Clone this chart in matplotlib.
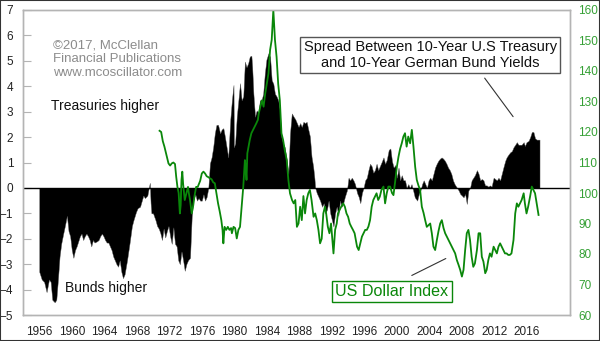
import numpy as np
import matplotlib
matplotlib.use("Agg")
import matplotlib.pyplot as plt
from matplotlib.patches import Rectangle

plt.rcParams['font.family'] = ['Liberation Sans', 'DejaVu Sans']

# US 10-yr minus German 10-yr yield spread (percentage points)
spread_years = [
    1956.0, 1956.3, 1956.6, 1956.9, 1957.2, 1957.4, 1957.6, 1957.9, 1958.1, 1958.3,
    1958.5, 1958.7, 1958.95, 1959.15, 1959.4, 1959.6, 1959.8, 1960.0, 1960.2, 1960.4,
    1960.6, 1960.8, 1961.0, 1961.2, 1961.4, 1961.6, 1961.8, 1962.0, 1962.2, 1962.4,
    1962.6, 1962.8, 1963.1, 1963.3, 1963.5, 1963.7, 1963.9, 1964.1, 1964.3, 1964.5,
    1964.7, 1964.9, 1965.1, 1965.3, 1965.5, 1965.7, 1965.9, 1966.1, 1966.3, 1966.5,
    1966.8, 1967.1, 1967.4, 1967.6, 1967.9, 1968.1, 1968.4, 1968.8, 1969.0, 1969.3,
    1969.6, 1969.7, 1969.8, 1970.0, 1970.3, 1970.5, 1970.7, 1970.9, 1971.1, 1971.3,
    1971.5, 1971.7, 1971.9, 1972.1, 1972.3, 1972.5, 1972.7, 1972.9, 1973.1, 1973.3,
    1973.5, 1973.7, 1973.9, 1974.1, 1974.3, 1974.55, 1974.76, 1974.95, 1975.2, 1975.4,
    1975.6, 1975.8, 1976.0, 1976.2, 1976.4, 1976.6, 1976.8, 1977.0, 1977.2, 1977.4,
    1977.6, 1977.8, 1978.0, 1978.25, 1978.45, 1978.65, 1978.85, 1979.05, 1979.25, 1979.5,
    1979.7, 1979.9, 1979.95, 1980.1, 1980.3, 1980.5, 1980.7, 1980.9, 1981.1, 1981.3,
    1981.5, 1981.7, 1981.9, 1982.1, 1982.2, 1982.35, 1982.55, 1982.75, 1982.95, 1983.15,
    1983.35, 1983.55, 1983.75, 1983.95, 1984.2, 1984.4, 1984.6, 1984.8, 1985.0, 1985.2,
    1985.4, 1985.6, 1985.8, 1986.0, 1986.2, 1986.45, 1986.65, 1986.85, 1987.07, 1987.3,
    1987.5, 1987.7, 1987.9, 1988.1, 1988.3, 1988.5, 1988.7, 1988.9, 1989.1, 1989.3,
    1989.5, 1989.7, 1989.85, 1989.95, 1990.15, 1990.35, 1990.55, 1990.8, 1991.0, 1991.2,
    1991.4, 1991.6, 1991.8, 1992.0, 1992.2, 1992.4, 1992.6, 1992.8, 1993.0, 1993.2,
    1993.4, 1993.6, 1993.85, 1994.05, 1994.25, 1994.45, 1994.65, 1994.85, 1995.1, 1995.3,
    1995.5, 1995.7, 1995.9, 1996.1, 1996.3, 1996.5, 1996.7, 1996.9, 1997.1, 1997.3,
    1997.5, 1997.7, 1997.9, 1998.1, 1998.35, 1998.55, 1998.75, 1999.0, 1999.2, 1999.4,
    1999.6, 1999.8, 2000.0, 2000.2, 2000.4, 2000.6, 2000.8, 2001.0, 2001.2, 2001.4,
    2001.6, 2001.8, 2002.0, 2002.2, 2002.5, 2002.7, 2002.9, 2003.1, 2003.3, 2003.5,
    2003.7, 2003.9, 2004.1, 2004.3, 2004.5, 2004.7, 2004.9, 2005.1, 2005.3, 2005.5,
    2005.7, 2005.9, 2006.1, 2006.3, 2006.5, 2006.7, 2006.9, 2007.1, 2007.4, 2007.6,
    2007.8, 2008.0, 2008.2, 2008.4, 2008.6, 2008.8, 2009.0, 2009.2, 2009.4, 2009.6,
    2009.85, 2010.05, 2010.25, 2010.45, 2010.65, 2010.85, 2011.05, 2011.25, 2011.45, 2011.65,
    2011.9, 2012.1, 2012.3, 2012.5, 2012.7, 2012.9, 2013.1, 2013.33, 2013.5, 2013.7,
    2013.94, 2014.15, 2014.35, 2014.56, 2014.76, 2014.95, 2015.15, 2015.35, 2015.6, 2015.75,
    2015.95, 2016.2, 2016.4, 2016.6, 2016.8, 2017.0, 2017.2, 2017.43, 2017.55,
]
spread = [
    -3.3, -3.6, -3.7, -4.1, -3.6, -3.7, -4.4, -4.5, -4.4, -3.6,
    -2.7, -2.2, -1.8, -1.5, -1.1, -1.7, -1.9, -2.45, -2.75, -2.45,
    -2.3, -2.1, -1.9, -1.8, -2.05, -1.9, -1.8, -1.9, -2.05, -2.3,
    -2.05, -2.15, -2.1, -2.05, -1.9, -1.8, -1.9, -2.05, -2.15, -2.15,
    -2.3, -2.45, -2.7, -2.85, -3.0, -3.1, -2.85, -3.3, -3.55, -3.4,
    -2.85, -2.2, -1.5, -1.26, -0.95, -0.8, -0.74, -0.3, -0.4, -0.3,
    0.2, -0.6, -1.0, -1.0, -1.27, -1.5, -1.6, -1.78, -2.05, -1.6,
    -1.95, -1.7, -1.5, -1.9, -2.2, -1.55, -2.2, -2.3, -2.85, -3.0,
    -2.5, -2.85, -3.26, -3.0, -2.85, -2.75, -1.13, -0.5, -0.25, -0.5,
    -0.4, -0.5, -0.5, -0.25, -0.5, -0.35, 0.0, 0.97, 1.2, 1.6,
    2.15, 2.48, 2.48, 2.15, 2.3, 2.35, 2.0, 1.6, 1.2, 2.68,
    3.45, 4.05, 1.6, 1.75, 2.8, 3.45, 4.12, 3.45, 3.6, 4.97,
    4.75, 4.9, 5.17, 5.2, 4.75, 3.7, 2.8, 3.05, 2.95, 3.45,
    3.45, 3.7, 4.5, 5.05, 5.3, 5.15, 4.24, 4.1, 3.7, 3.6,
    3.45, 3.05, 2.0, 1.75, 1.6, 1.1, 0.55, 2.15, 2.93, 2.8,
    2.7, 2.55, 2.4, 2.55, 2.4, 2.6, 2.55, 2.6, 2.3, 2.02,
    1.23, 0.84, 0.4, 0.0, -0.21, -0.35, -0.5, -0.74, -0.6, -1.0,
    -0.85, -0.5, -1.0, -1.26, -1.52, -1.0, -0.74, -1.1, -0.5, -0.74,
    -0.6, -0.35, -0.1, 0.4, 0.3, 0.4, 0.3, 0.15, -0.2, -0.35,
    -0.6, -0.2, 0.0, 0.3, 0.4, 0.7, 0.95, 0.85, 0.6, 0.7,
    0.95, 0.7, 0.85, 1.0, 1.2, 0.95, 1.1, 1.5, 1.55, 1.05,
    0.8, 0.9, 0.4, 0.8, 0.3, 0.5, 0.3, 0.3, 0.0, 0.15,
    0.0, 0.15, -0.1, -0.37, -0.5, -0.24, -0.1, 0.15, 0.3, 0.15,
    0.0, 0.3, 0.4, 0.3, 0.55, 0.8, 0.95, 1.07, 1.15, 1.2,
    1.15, 1.07, 0.95, 0.8, 0.7, 0.55, 0.3, 0.15, 0.0, -0.1,
    -0.24, -0.3, -0.37, -0.24, -0.63, -0.1, 0.0, 0.3, 0.4, 0.5,
    0.7, 0.55, 0.3, 0.35, 0.3, 0.1, 0.1, 0.05, 0.1, 0.05,
    0.4, 0.35, 0.3, 0.4, 0.3, 0.55, 0.8, 1.07, 1.2, 1.3,
    1.4, 1.45, 1.6, 1.7, 1.8, 1.7, 1.7, 1.7, 1.8, 1.65,
    1.8, 1.85, 2.0, 2.2, 2.2, 1.95, 1.9, 1.9, 1.9,
]

# US Dollar Index
dollar_years = [
    1970.8, 1971.0, 1971.2, 1971.4, 1971.6, 1971.7, 1971.9, 1972.1, 1972.3, 1972.5,
    1972.7, 1972.85, 1973.0, 1973.15, 1973.3, 1973.4, 1973.5, 1973.6, 1973.7, 1973.9,
    1974.1, 1974.3, 1974.4, 1974.55, 1974.76, 1974.95, 1975.1, 1975.3, 1975.5, 1975.8,
    1976.0, 1976.2, 1976.4, 1976.6, 1976.8, 1977.0, 1977.2, 1977.4, 1977.6, 1977.8,
    1978.0, 1978.2, 1978.4, 1978.55, 1978.65, 1978.8, 1979.0, 1979.2, 1979.4, 1979.6,
    1979.7, 1979.9, 1980.1, 1980.3, 1980.5, 1980.7, 1980.9, 1981.1, 1981.3, 1981.4,
    1981.5, 1981.6, 1981.9, 1982.1, 1982.5, 1982.7, 1982.9, 1983.0, 1983.2, 1983.4,
    1983.6, 1983.8, 1984.0, 1984.2, 1984.4, 1984.6, 1984.8, 1985.0, 1985.2, 1985.4,
    1985.6, 1985.8, 1986.0, 1986.2, 1986.45, 1986.65, 1986.85, 1987.1, 1987.3, 1987.5,
    1987.7, 1987.9, 1988.1, 1988.3, 1988.5, 1988.7, 1988.9, 1989.1, 1989.3, 1989.5,
    1989.75, 1989.95, 1990.15, 1990.35, 1990.55, 1990.75, 1990.95, 1991.15, 1991.3, 1991.5,
    1991.7, 1991.9, 1992.2, 1992.4, 1992.6, 1992.75, 1992.95, 1993.15, 1993.4, 1993.6,
    1993.8, 1994.0, 1994.2, 1994.4, 1994.6, 1994.8, 1995.1, 1995.3, 1995.5, 1995.7,
    1995.9, 1996.1, 1996.3, 1996.5, 1996.7, 1996.9, 1997.1, 1997.3, 1997.5, 1997.7,
    1997.9, 1998.1, 1998.35, 1998.55, 1998.75, 1998.95, 1999.17, 1999.4, 1999.58, 1999.8,
    2000.0, 2000.2, 2000.4, 2000.6, 2000.8, 2001.0, 2001.2, 2001.4, 2001.63, 2001.84,
    2002.04, 2002.25, 2002.45, 2002.65, 2002.86, 2003.07, 2003.28, 2003.48, 2003.68, 2003.9,
    2004.1, 2004.3, 2004.5, 2004.71, 2004.92, 2005.12, 2005.33, 2005.53, 2005.74, 2005.94,
    2006.15, 2006.35, 2006.55, 2006.76, 2006.97, 2007.17, 2007.38, 2007.58, 2007.79, 2008.0,
    2008.2, 2008.4, 2008.6, 2008.8, 2009.0, 2009.2, 2009.4, 2009.6, 2009.85, 2010.05,
    2010.25, 2010.45, 2010.65, 2010.87, 2011.05, 2011.25, 2011.45, 2011.65, 2011.9, 2012.1,
    2012.3, 2012.5, 2012.7, 2012.9, 2013.1, 2013.3, 2013.5, 2013.7, 2013.9, 2014.1,
    2014.35, 2014.56, 2014.76, 2014.95, 2015.15, 2015.35, 2015.6, 2015.75, 2015.95, 2016.15,
    2016.4, 2016.6, 2016.8, 2017.0, 2017.2, 2017.43,
]
dollar = [
    120.4, 120.0, 117.0, 115.2, 113.0, 111.9, 109.7, 109.0, 109.7, 110.0,
    109.5, 105.3, 102.0, 100.0, 93.3, 96.0, 104.3, 107.0, 103.0, 97.7,
    99.9, 102.0, 100.0, 97.7, 93.3, 96.0, 99.0, 102.0, 102.0, 104.0,
    106.4, 107.0, 106.4, 105.5, 105.2, 104.8, 104.5, 103.5, 103.2, 100.0,
    96.6, 94.0, 91.1, 87.9, 83.5, 88.9, 87.9, 88.9, 87.9, 88.5,
    86.8, 88.9, 88.5, 85.1, 87.9, 88.9, 95.5, 102.0, 110.8, 108.0,
    104.3, 113.0, 117.4, 119.6, 121.7, 122.8, 124.0, 126.0, 128.3, 130.4,
    128.3, 132.6, 135.9, 139.2, 146.9, 150.2, 160.0, 150.2, 144.6, 135.7,
    130.4, 119.6, 117.4, 114.1, 110.8, 104.3, 99.9, 97.7, 96.6, 97.7,
    88.9, 90.0, 95.5, 91.1, 99.0, 93.3, 97.7, 99.9, 101.0, 97.7,
    92.2, 93.3, 91.1, 87.9, 83.5, 85.0, 93.3, 95.5, 93.3, 89.0,
    86.8, 90.0, 80.2, 87.9, 90.0, 93.3, 94.4, 95.5, 96.6, 95.5,
    93.3, 92.2, 90.0, 88.9, 87.9, 86.8, 82.4, 81.3, 83.5, 85.7,
    86.8, 87.9, 87.9, 89.0, 91.1, 95.5, 97.7, 98.8, 99.9, 97.7,
    98.8, 101.0, 102.1, 96.6, 99.9, 102.1, 102.1, 100.0, 99.3, 104.0,
    108.6, 111.9, 114.5, 116.3, 118.5, 119.6, 115.2, 118.5, 116.3, 120.7,
    115.2, 108.6, 104.3, 102.5, 101.0, 95.5, 93.5, 91.1, 88.9, 89.5,
    90.0, 86.8, 82.4, 81.3, 84.6, 87.5, 90.0, 91.1, 88.5, 86.8,
    85.7, 84.6, 83.5, 82.4, 81.3, 80.2, 78.0, 76.5, 74.8, 72.6,
    74.8, 81.3, 86.8, 87.9, 84.6, 79.1, 75.8, 76.9, 81.3, 86.8,
    86.8, 79.1, 77.5, 73.7, 74.8, 78.0, 80.2, 79.1, 82.4, 81.3,
    80.2, 82.4, 83.5, 82.4, 81.3, 80.2, 80.2, 79.7, 79.7, 80.2,
    84.6, 93.3, 96.6, 95.5, 96.6, 97.7, 99.9, 96.6, 93.3, 95.5,
    99.0, 102.1, 101.0, 99.9, 96.6, 92.8,
]

tick_years = list(range(1956, 2017, 4))

green = '#0a870a'
label_green = '#35a035'
spine_gray = '#b4b4b4'

fig = plt.figure(figsize=(6, 3.41), dpi=100)
ax = fig.add_axes([23 / 600, 26 / 341, 547 / 600, 305 / 341])
ax2 = ax.twinx()

ax.fill_between(spread_years, spread, 0, color='black', lw=0.3, edgecolor='#555555')
ax.axhline(0, color='black', lw=1)
ax2.plot(dollar_years, dollar, color=green, lw=1.3)

ax.set_xlim(1954.0, 2021.3)
ax.set_ylim(-5, 7)
ax2.set_ylim(60, 160)

ax.set_xticks(tick_years)
ax.set_yticks(range(-5, 8))
ax2.set_yticks(range(60, 161, 10))

ax.tick_params(axis='y', direction='in', length=6, width=0.8, color=spine_gray,
               pad=7, labelsize=8.5, labelcolor='#222222')
ax.tick_params(axis='x', length=0, pad=8, labelsize=8.5, labelcolor='#222222')
ax2.tick_params(axis='y', length=0, pad=6, labelsize=8.5, labelcolor=label_green)

for a in (ax, ax2):
    for s in a.spines.values():
        s.set_color(spine_gray)
        s.set_linewidth(1)

ax.set_zorder(1)
ax2.set_zorder(2)
ax2.patch.set_visible(False)

tr = ax.transAxes
ax.text(0.055, 0.902, "\u00a92017, McClellan\nFinancial Publications\nwww.mcoscillator.com",
        transform=tr, ha='left', va='top', fontsize=9.5, color='#8c8c8c', linespacing=1.15)
ax.text(0.051, 0.685, "Treasuries higher", transform=tr, ha='left', va='center',
        fontsize=10, color='#111111')
ax.text(0.077, 0.088, "Bunds higher", transform=tr, ha='left', va='center',
        fontsize=10, color='#111111')

tr2 = ax2.transAxes
ax2.annotate("", xy=(0.899, 0.643), xytext=(0.841, 0.784), xycoords=tr2, textcoords=tr2,
             arrowprops=dict(arrowstyle='-', color='#333333', lw=0.8))
ax2.text(0.7445, 0.852, "Spread Between 10-Year U.S Treasury\nand 10-Year German Bund Yields",
         transform=tr2, ha='center', va='center', fontsize=10.5, color='#111111',
         linespacing=1.2,
         bbox=dict(boxstyle='square,pad=0.22', fc='white', ec='#555555', lw=1))

ax2.annotate("", xy=(0.7775, 0.1892), xytext=(0.7062, 0.1256), xycoords=tr2, textcoords=tr2,
             arrowprops=dict(arrowstyle='-', color='#333333', lw=0.8))
ax2.text(0.6746, 0.0777, "US Dollar Index", transform=tr2, ha='center', va='center',
         fontsize=11.6, color=green,
         bbox=dict(boxstyle='square,pad=0.2', fc='white', ec=green, lw=1))

fig.patches.append(Rectangle((0, 0), 1, 1, transform=fig.transFigure, fill=False,
                             ec='#333333', lw=1.5))

fig.savefig("out.png", dpi=100)
